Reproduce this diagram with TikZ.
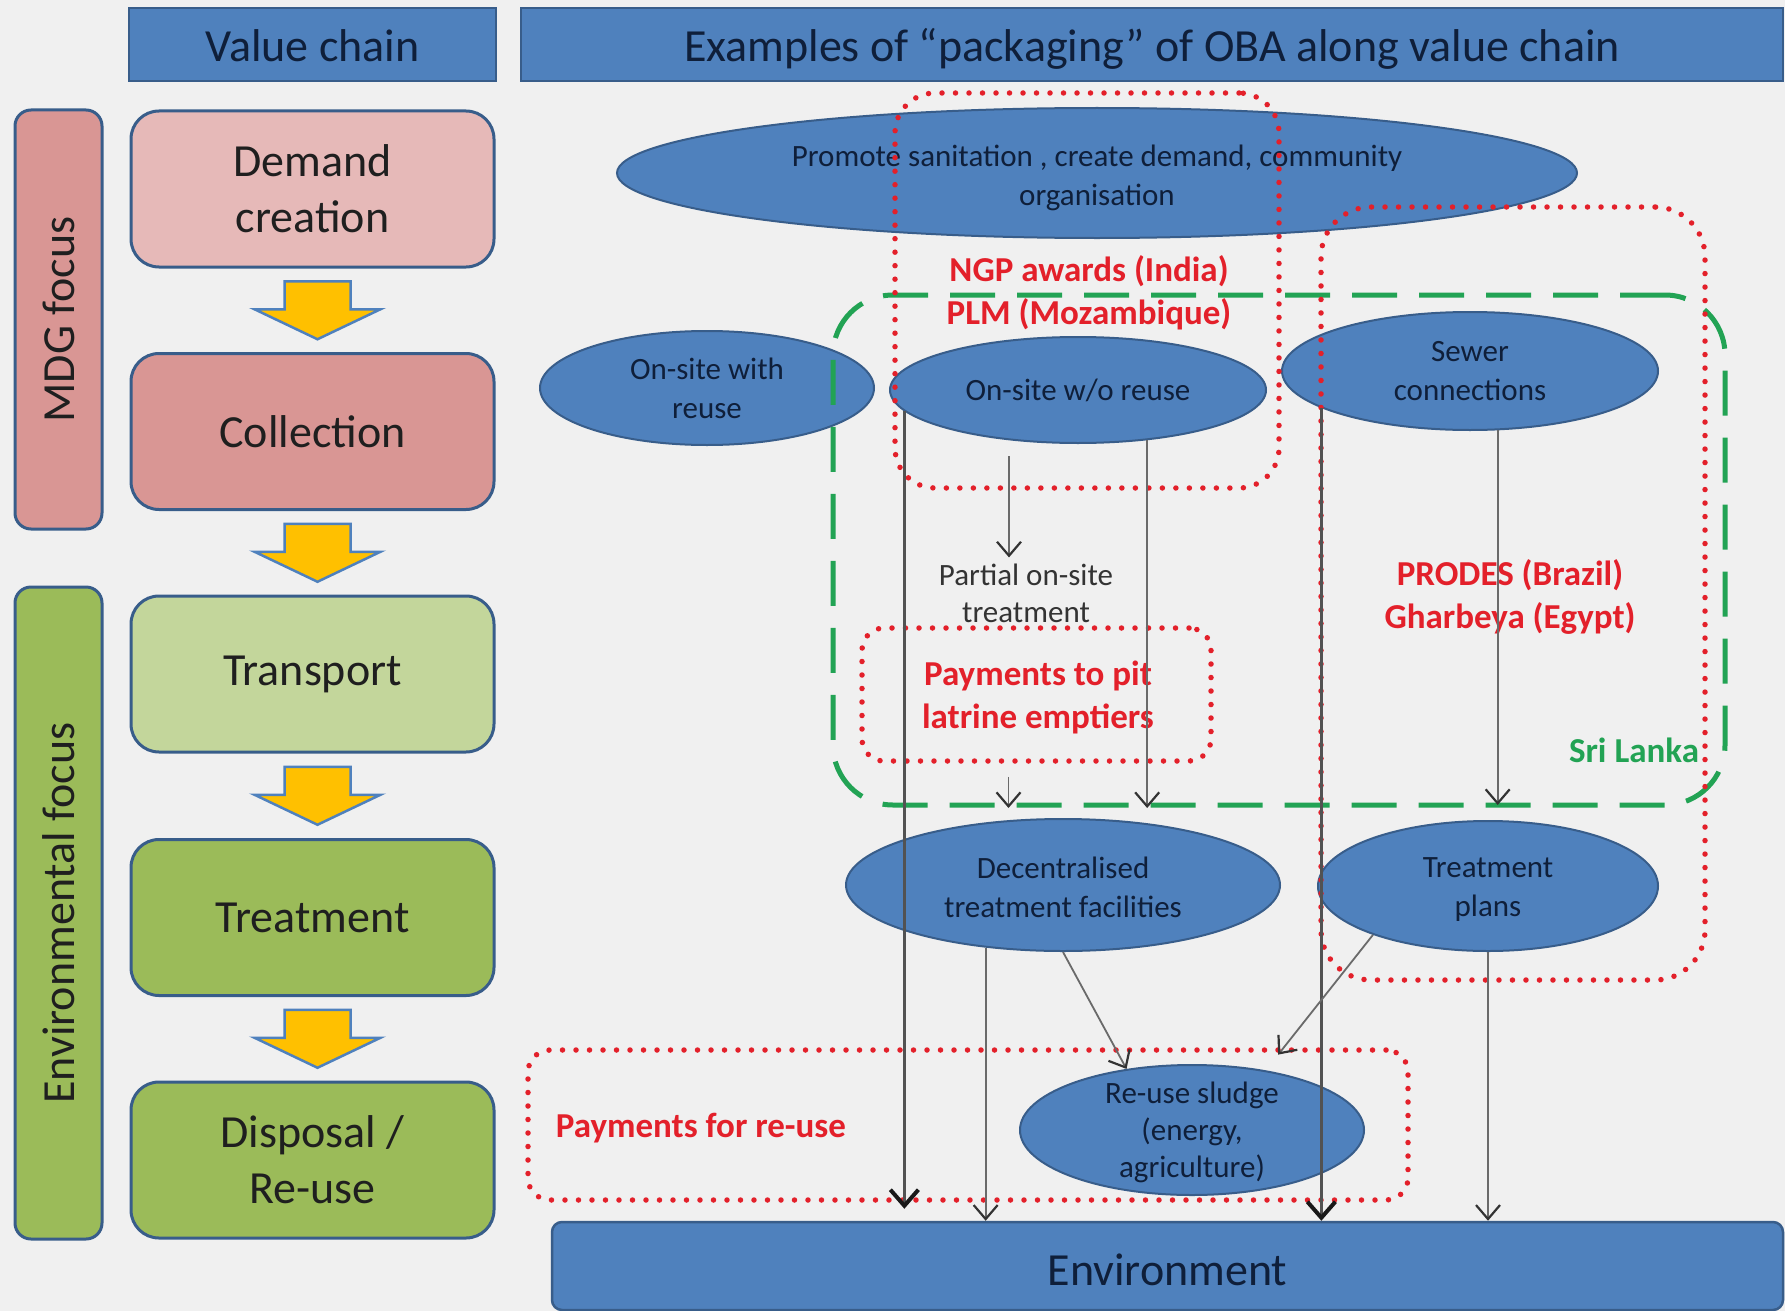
\documentclass[tikz,border=0pt]{standalone}
\usepackage{fontspec}
\setmainfont{Carlito}
\usetikzlibrary{arrows.meta,shapes.geometric,calc}

\definecolor{bg}{HTML}{F0F0F0}
\definecolor{hdrblue}{HTML}{4F81BD}
\definecolor{edgeblue}{HTML}{385D8A}
\definecolor{navytext}{HTML}{0F1F3A}
\definecolor{pinklight}{HTML}{E6B9B8}
\definecolor{pinkmid}{HTML}{D99694}
\definecolor{greenlight}{HTML}{C3D69B}
\definecolor{greenmid}{HTML}{9BBB59}
\definecolor{flowyellow}{HTML}{FFC000}
\definecolor{oba}{HTML}{E3202A}
\definecolor{lanka}{HTML}{22A354}
\definecolor{wire}{HTML}{6A6A6A}

\newcommand\fsz[2]{\fontsize{#1}{#2}\selectfont}

\tikzset{
  hdr/.style={rectangle, draw=edgeblue, fill=hdrblue, line width=2.5pt,
    text=navytext, font=\fsz{46}{56}, inner sep=0pt, minimum height=73pt,
    text height=34pt, text depth=0pt},
  stage/.style={rectangle, rounded corners=28pt, draw=edgeblue, line width=3pt,
    font=\fsz{46}{56}, text=black!88, align=center, inner sep=0pt,
    minimum width=363pt, minimum height=156pt},
  focus/.style={rectangle, rounded corners=16pt, draw=edgeblue, line width=3pt,
    font=\fsz{46}{56}, text=black!88, inner sep=0pt, rotate=90,
    minimum height=87pt},
  blob/.style={ellipse, draw=edgeblue, fill=hdrblue, line width=2pt, inner sep=0pt},
  blobtext/.style={text=navytext, font=\fsz{31}{39}, align=center, inner sep=0pt},
  obabox/.style={rectangle, draw=oba, line width=5.5pt, line cap=round,
    dash pattern=on 0pt off 13.5pt, inner sep=0pt},
  obatext/.style={text=oba, font=\bfseries\fsz{35}{43}, align=center, inner sep=0pt},
  lankabox/.style={rectangle, draw=lanka, line width=5pt, rounded corners=60pt,
    dash pattern=on 45pt off 22pt, inner sep=0pt},
  wirearrow/.style={draw=wire, line width=1.8pt,
    -{Straight Barb[length=14pt,width=24pt,line width=2.2pt,color=black!80]}},
  mainarrow/.style={draw=black!68, line width=3pt,
    -{Straight Barb[length=16pt,width=28pt,line width=4pt,color=black!90]}},
  flowdown/.pic={
    \path[draw=hdrblue, fill=flowyellow, line width=2.5pt, line join=miter]
      (-33,-29) -- (33,-29) -- (33,-1) -- (63,-1) -- (0,29) -- (-63,-1)
      -- (-33,-1) -- cycle;}
}

\begin{document}
\begin{tikzpicture}[x=1pt,y=-1pt]
  \fill[bg] (0,0) rectangle (1785,1311);
  \useasboundingbox (0,0) rectangle (1785,1311);

  % column headers
  \node[hdr, minimum width=367pt] (vchead) at (312.5,44.5) {Value chain};
  \node[hdr, minimum width=1262pt] (obahead) at (1152,44.5)
    {Examples of “packaging” of OBA along value chain};

  % focus bars
  \node[focus, fill=pinkmid, minimum width=419pt] (mdg) at (58.5,319.5) {MDG focus};
  \node[focus, fill=greenmid, minimum width=652pt] (envfocus) at (58.5,913) {Environmental focus};

  % value chain stages
  \node[stage, fill=pinklight] (demand) at (312.5,189) {Demand\\creation};
  \node[stage, fill=pinkmid] (collect) at (312.5,431.5) {Collection};
  \node[stage, fill=greenlight] (transport) at (312.5,674) {Transport};
  \node[stage, fill=greenmid] (treat) at (312.5,917.5) {Treatment};
  \node[stage, fill=greenmid] (dispose) at (312.5,1160) {Disposal /\\Re-use};

  % block arrows between stages
  \pic at ([xshift=5pt]$(demand.south)!.5!(collect.north)$) {flowdown};
  \pic at ([xshift=5pt]$(collect.south)!.5!(transport.north)$) {flowdown};
  \pic at ([xshift=5pt]$(transport.south)!.5!(treat.north)$) {flowdown};
  \pic at ([xshift=5pt]$(treat.south)!.5!(dispose.north)$) {flowdown};

  % sanitation options
  \node[blob, minimum width=960pt, minimum height=130pt,
    label={[blobtext,yshift=-5pt]center:{Promote sanitation , create demand, community\\organisation}}]
    (promote) at (1097,173) {};
  \node[blob, minimum width=334pt, minimum height=114pt,
    label={[blobtext]center:{On-site with\\reuse}}] (onsitew) at (707,388) {};
  \node[blob, minimum width=376pt, minimum height=106pt,
    label={[blobtext]center:{On-site w/o reuse}}] (onsiteno) at (1078,390) {};
  \node[blob, minimum width=376pt, minimum height=118pt,
    label={[blobtext]center:{Sewer\\connections}}] (sewer) at (1470,371) {};
  \node[blob, minimum width=434pt, minimum height=132pt,
    label={[blobtext,yshift=-2pt]center:{Decentralised\\treatment facilities}}] (decentral) at (1063,885) {};
  \node[blob, minimum width=340pt, minimum height=130pt,
    label={[blobtext,yshift=-4pt]center:{Treatment\\plans}}] (tplans) at (1488,886) {};
  \node[blob, minimum width=344pt, minimum height=130pt,
    label={[blobtext,font=\fsz{31}{37},yshift=-2pt]center:{Re-use sludge\\(energy,\\agriculture)}}]
    (reuse) at (1192,1130) {};

  % environment bar
  \node[rectangle, rounded corners=10pt, draw=edgeblue, fill=hdrblue, line width=2.5pt,
    minimum width=1231pt, minimum height=88pt, inner sep=0pt,
    text height=38pt, text depth=0pt,
    text=navytext, font=\fsz{46}{56}] (env) at (1167.5,1266) {Environment};

  \node[text=black!80, font=\fsz{31}{37}, align=center, inner sep=0pt]
    (partial) at (1026,593) {Partial on-site\\treatment};

  % programme groupings
  \node[lankabox, minimum width=892pt, minimum height=510pt] (lanka) at (1279,550) {};
  \node[obabox, rounded corners=40pt, minimum width=384pt, minimum height=395pt] (ngp) at (1087,290.5) {};
  \node[obabox, rounded corners=50pt, minimum width=384pt, minimum height=773pt] (prodes) at (1513,593.5) {};
  \node[obabox, rounded corners=22pt, minimum width=349pt, minimum height=133pt] (paypit) at (1036.5,694.5) {};
  \node[obabox, rounded corners=22pt, minimum width=880pt, minimum height=150pt] (payreuse) at (968,1125) {};

  \node[obatext] (ngplbl) at (1089,293) {NGP awards (India)\\PLM (Mozambique)};
  \node[obatext] (prodeslbl) at (1510,597) {PRODES (Brazil)\\Gharbeya (Egypt)};
  \node[obatext] (paypitlbl) at (1038,697) {Payments to pit\\latrine emptiers};
  \node[obatext] (payreuselbl) at (701,1128) {Payments for re-use};
  \node[text=lanka, font=\bfseries\fsz{35}{43}, inner sep=0pt] (lankalbl) at (1634,750) {Sri Lanka};

  % flows
  \coordinate (partialin) at ([xshift=-69pt,yshift=-12pt]onsiteno.south);
  \coordinate (pitout) at ([xshift=-28pt,yshift=-13pt]paypit.south);

  \draw[mainarrow, shorten >=12pt] (onsiteno.187) -- (onsiteno.187 |- env.north);
  \draw[mainarrow] (sewer.194) -- (sewer.194 |- env.north);
  \draw[wirearrow, shorten >=6pt] (partialin) -- (partialin |- partial.north);
  \draw[wirearrow, shorten >=10pt] (onsiteno.-36.7) -- (onsiteno.-36.7 |- decentral.north);
  \draw[wirearrow, shorten >=10pt] (pitout) -- (pitout |- decentral.north);
  \draw[wirearrow, shorten >=15pt] (sewer.-65) -- (sewer.-65 |- tplans.north);
  \draw[wirearrow] (decentral.-141) -- (decentral.-141 |- env.north);
  \draw[wirearrow] (decentral.south) -- (reuse.137.7);
  \draw[wirearrow, shorten >=20pt] (tplans.-157.8) -- (reuse.39.6);
  \draw[wirearrow] (tplans.south) -- (tplans.south |- env.north);
\end{tikzpicture}
\end{document}
